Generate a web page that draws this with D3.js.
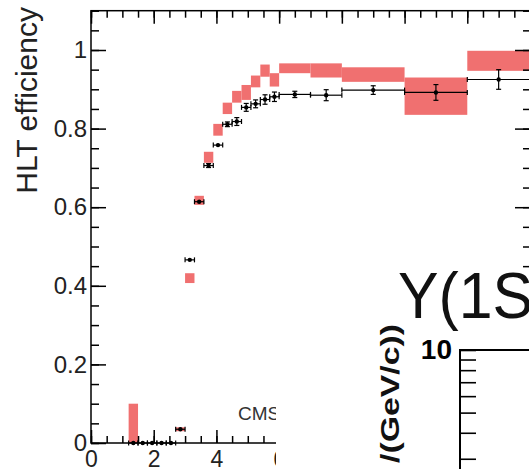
<!DOCTYPE html>
<html><head><meta charset="utf-8">
<script src="https://cdn.jsdelivr.net/npm/d3@7"></script>
<style>html,body{margin:0;padding:0;background:#fff;overflow:hidden}</style>
</head><body><svg id="c" width="529" height="469"></svg>
<script>
// ---- data ----
const binLo  = [1.2,1.5,1.8,2.1,2.4,2.7,3.0,3.3,3.6,3.9,4.2,4.5,4.8,5.1,5.4,5.7,6,7,8,10,12];
const binHi  = [1.5,1.8,2.1,2.4,2.7,3.0,3.3,3.6,3.9,4.2,4.5,4.8,5.1,5.4,5.7,6.0,7,8,10,12,14];
const effVal = [0,0,0,0,0,0.035,0.466,0.614,0.706,0.758,0.811,0.818,0.854,0.863,0.874,0.881,0.887,0.885,0.898,0.892,0.925];
const effErr = [0.002,0.002,0.002,0.002,0.002,0.003,0.003,0.004,0.005,0.004,0.006,0.01,0.01,0.01,0.012,0.012,0.008,0.014,0.011,0.02,0.025];
const boxLo  = [0,null,null,null,null,0.030,0.407,0.606,0.713,0.782,0.837,0.866,0.873,0.905,0.932,0.907,0.941,0.930,0.919,0.835,0.947];
const boxHi  = [0.1,null,null,null,null,0.040,0.432,0.629,0.741,0.812,0.866,0.896,0.911,0.935,0.963,0.941,0.966,0.966,0.956,0.930,0.998];
const xMajor = [0,2,4,6,8,10,12,14];
const yMajor = [0,0.2,0.4,0.6,0.8,1];
const yTickLabels = ["0","0.2","0.4","0.6","0.8","1"];
const insetTicks = [2,3,4,5,6,7,8,9,10];

const svg = d3.select("#c");
const W = 529, H = 469;
const x = d3.scaleLinear().domain([0,14]).range([91,530]);
const y = d3.scaleLinear().domain([0,1.1]).range([443,10.7]);
const font = "'Liberation Sans', Arial, sans-serif";
const red = "#f07070";

// boxes
const boxes = binLo.map((l,i)=>({l,h:binHi[i],lo:boxLo[i],hi:boxHi[i]})).filter(d=>d.lo!==null);
svg.append("g").selectAll("rect").data(boxes).join("rect")
  .attr("x",d=>x(d.l)).attr("width",d=>x(d.h)-x(d.l))
  .attr("y",d=>y(d.hi)).attr("height",d=>y(d.lo)-y(d.hi))
  .attr("fill",red);

// points
const pts = binLo.map((l,i)=>({l,h:binHi[i],c:(l+binHi[i])/2,v:effVal[i],e:effErr[i]}));
const pg = svg.append("g").attr("stroke","#000").attr("stroke-width",1.2);
pts.forEach(d=>{
  pg.append("line").attr("x1",x(d.l)).attr("x2",x(d.h)).attr("y1",y(d.v)).attr("y2",y(d.v));
  [d.l,d.h].forEach(e=>pg.append("line").attr("x1",x(e)).attr("x2",x(e)).attr("y1",y(d.v)-2.5).attr("y2",y(d.v)+2.5));
  pg.append("line").attr("x1",x(d.c)).attr("x2",x(d.c)).attr("y1",y(d.v+d.e)).attr("y2",y(d.v-d.e));
  if (d.e>0.004){
    [d.v+d.e,d.v-d.e].forEach(e=>pg.append("line").attr("x1",x(d.c)-2.5).attr("x2",x(d.c)+2.5).attr("y1",y(e)).attr("y2",y(e)));
  }
  pg.append("circle").attr("cx",x(d.c)).attr("cy",y(d.v)).attr("r",2.2).attr("fill","#000").attr("stroke","none");
});

// axes
function minorVals(lo,hi,step){const a=[];for(let v=lo;v<=hi+1e-9;v+=step)a.push(+v.toFixed(4));return a;}
const axStyle = g=>{g.selectAll("path,line").attr("stroke","#000").attr("stroke-width",1.5);g.select(".domain").remove();};
// bottom
svg.append("g").attr("transform","translate(0,443)")
  .call(d3.axisBottom(x).tickValues(minorVals(0,14,0.5)).tickSize(-7).tickFormat(""))
  .call(axStyle);
svg.append("g").attr("transform","translate(0,443)")
  .call(d3.axisBottom(x).tickValues(xMajor).tickSize(-13).tickPadding(8).tickFormat(d3.format("d")))
  .call(axStyle)
  .call(g=>g.selectAll("text").attr("font-family",font).attr("font-size",23).attr("fill","#222").attr("dy","0.71em"));
// top
svg.append("g").attr("transform","translate(0,10.7)")
  .call(d3.axisTop(x).tickValues(minorVals(0,14,0.5)).tickSize(-7).tickFormat("")).call(axStyle);
svg.append("g").attr("transform","translate(0,10.7)")
  .call(d3.axisTop(x).tickValues(xMajor).tickSize(-13).tickFormat("")).call(axStyle);
// left
svg.append("g").attr("transform","translate(91,0)")
  .call(d3.axisLeft(y).tickValues(minorVals(0,1.1,0.05)).tickSize(-8).tickFormat("")).call(axStyle);
svg.append("g").attr("transform","translate(91,0)")
  .call(d3.axisLeft(y).tickValues(yMajor).tickSize(-15).tickPadding(4).tickFormat((d,i)=>yTickLabels[i]))
  .call(axStyle)
  .call(g=>g.selectAll("text").attr("font-family",font).attr("font-size",24).attr("fill","#222"));
// right
svg.append("g").attr("transform","translate(530,0)")
  .call(d3.axisRight(y).tickValues(minorVals(0,1.1,0.05)).tickSize(-7).tickFormat("")).call(axStyle);
svg.append("g").attr("transform","translate(530,0)")
  .call(d3.axisRight(y).tickValues(yMajor).tickSize(-15).tickFormat("")).call(axStyle);
// frame
svg.append("rect").attr("x",91).attr("y",10.7).attr("width",439).attr("height",432.3)
  .attr("fill","none").attr("stroke","#000").attr("stroke-width",1.5);

// axis title
svg.append("text").attr("transform","translate(37,7) rotate(-90)").attr("text-anchor","end")
  .attr("font-family",font).attr("font-size",30).attr("fill","#222").text("HLT efficiency");
// CMS
svg.append("text").attr("x",238).attr("y",420).attr("font-family",font).attr("font-size",19).attr("fill","#333").text("CMS");

// ---- overlapping inset panel ----
svg.append("rect").attr("x",276).attr("y",271).attr("width",W-276).attr("height",H-271).attr("fill","#fff");
svg.append("text").attr("transform","translate(398,318) scale(0.95,1)")
  .attr("font-family",font).attr("font-size",64).attr("fill","#111").text("Y(1S");
const yl = d3.scaleLog().domain([1,10]).range([350+208,350]);
svg.append("g").attr("transform","translate(460,0)")
  .call(d3.axisLeft(yl).tickValues(insetTicks).tickSize(-16).tickPadding(8).tickFormat(d=>d===10?"10":""))
  .call(g=>{g.select(".domain").remove();g.selectAll("line").attr("stroke","#000").attr("stroke-width",1.6);
            g.selectAll("text").attr("font-family",font).attr("font-size",28).attr("font-weight","bold").attr("fill","#000");});
svg.append("line").attr("x1",460).attr("x2",460).attr("y1",350).attr("y2",H).attr("stroke","#000").attr("stroke-width",2);
svg.append("line").attr("x1",459).attr("x2",W).attr("y1",350).attr("y2",350).attr("stroke","#000").attr("stroke-width",2);
svg.append("text").attr("transform","translate(399,324) rotate(-90) scale(1.3,1)").attr("text-anchor","end")
  .attr("font-family",font).attr("font-size",26).attr("font-weight","bold").attr("fill","#111").text("/(GeV/c))");
</script></body></html>
